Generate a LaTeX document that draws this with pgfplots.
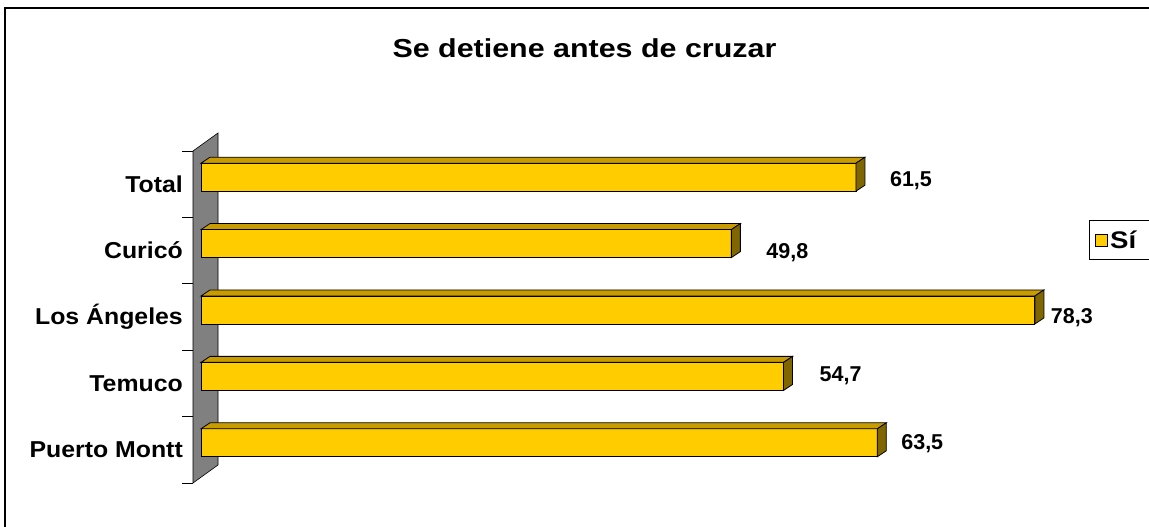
\documentclass[border=0pt]{standalone}
\usepackage{pgfplots}
\pgfplotsset{compat=1.18}
\usepackage{pgfplotstable}
\usepackage{fontspec}
\setmainfont{Liberation Sans}
\usepackage{graphicx}
\definecolor{barfront}{RGB}{255,204,0}
\definecolor{bartop}{RGB}{200,156,0}
\definecolor{barside}{RGB}{128,102,0}
\definecolor{wallc}{RGB}{128,128,128}
\newcommand\lab[1]{\scalebox{1.08}[1]{\fontsize{23}{26}\selectfont\bfseries #1}}
\pgfplotstableread{
y v dx dy lbl
0 63.5 45 6 63,5
1 54.7 57 8 54,7
2 78.3 37 -1 78,3
3 49.8 56 -2 49,8
4 61.5 55 4 61,5
}\data
\begin{document}
\begin{tikzpicture}[x=1pt,y=1pt]
\path[use as bounding box] (0,0) rectangle (1149,527);
\clip (0,0) rectangle (1149,527);
\fill[white] (0,0) rectangle (1149,527);
\draw[line width=2pt] (5,-10) -- (5,519) -- (1160,519);
\node[anchor=base, inner sep=0pt] at (584.5,469) {\scalebox{1.17}[1]{\fontsize{26}{30}\selectfont\bfseries Se detiene antes de cruzar}};
\filldraw[fill=wallc, draw=black, line width=0.6pt] (193,44) -- (193,376) -- (218,394) -- (218,62) -- cycle;
\foreach \k in {0,...,5} \draw[line width=0.8pt] (182,{44+66.4*\k}) -- (193,{44+66.4*\k});
\begin{axis}[at={(201pt,44pt)}, anchor=south west,
  x=10.65pt, y=66.4pt, xmin=0, xmax=80, ymin=-0.5, ymax=4.5,
  axis line style={draw=none}, xtick=\empty, ytick={0,...,4},
  yticklabels={\lab{Puerto Montt},\lab{Temuco},\lab{Los Ángeles},\lab{Curicó},\lab{Total}},
  major tick length=0pt,
  yticklabel style={anchor=east, inner sep=0pt, xshift=-18pt},
  clip=false,
  legend style={at={(1.0423,0.732)}, anchor=west, draw=black, line width=0.8pt,
    inner xsep=6pt, inner ysep=8pt},
  legend image code/.code={\draw[fill=barfront,draw=black,line width=0.8pt] (0pt,-6pt) rectangle (12pt,6pt);},
]
\addplot[forget plot, only marks, scatter, mark=text, text mark={},
  visualization depends on={\thisrow{v} \as \val},
  scatter/@pre marker code/.code={%
    \pgfmathsetmacro\barL{-\val*10.65}%
    \pgfmathsetmacro\barLb{-\val*10.65+9}%
    \filldraw[fill=bartop, draw=black, line width=0.8pt] (\barL pt,21pt) -- (0pt,21pt) -- (9pt,27pt) -- (\barLb pt,27pt) -- cycle;
    \filldraw[fill=barside, draw=black, line width=0.8pt] (0pt,-7pt) -- (0pt,21pt) -- (9pt,27pt) -- (9pt,-1pt) -- cycle;
  },
  scatter/@post marker code/.code={}]
  table[x=v, y=y]{\data};
\addplot[xbar, bar width=28pt, bar shift=7pt, fill=barfront, draw=black, line width=0.9pt,
  point meta=explicit symbolic,
  visualization depends on={\thisrow{dx} \as \dx},
  visualization depends on={\thisrow{dy} \as \dy},
  nodes near coords,
  nodes near coords style={anchor=center, inner sep=0pt, xshift=\dx pt, yshift=\dy pt,
    font=\fontsize{21.5}{24}\selectfont\bfseries}]
  table[x=v, y=y, meta=lbl]{\data};
\addlegendentry{\makebox[60pt][l]{\scalebox{1.15}[1]{\fontsize{24}{27}\selectfont\bfseries Sí}}}
\end{axis}
\end{tikzpicture}
\end{document}
